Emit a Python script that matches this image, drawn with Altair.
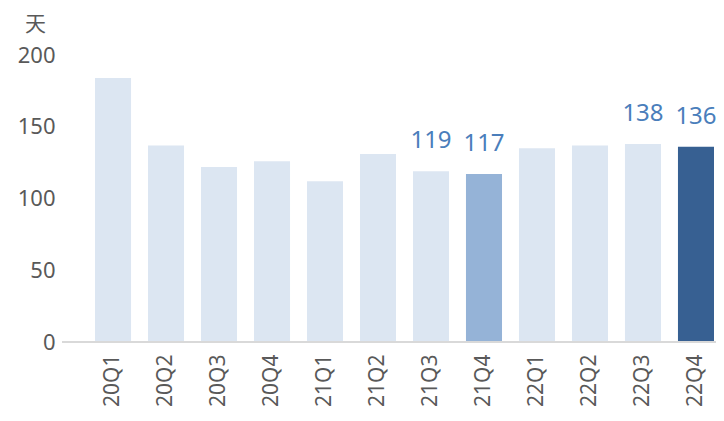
import altair as alt
import pandas as pd

quarters = ["20Q1", "20Q2", "20Q3", "20Q4", "21Q1", "21Q2",
            "21Q3", "21Q4", "22Q1", "22Q2", "22Q3", "22Q4"]
days = [184, 137, 122, 126, 112, 131, 119, 117, 135, 137, 138, 136]
labeled = ["21Q3", "21Q4", "22Q3", "22Q4"]
y_ticks = [0, 50, 100, 150, 200]
unit = "天"

df = pd.DataFrame({"quarter": quarters, "days": days})
df["show"] = df["quarter"].isin(labeled)

W, H = 654, 287
FONT = "Noto Sans, Noto Sans CJK SC"
GREY = "#595959"

xscale = alt.Scale(domain=quarters, range=[33, 652], paddingInner=0.32, paddingOuter=0)
yscale = alt.Scale(domain=[0, 200], nice=False)

base = alt.Chart(df).transform_calculate(
    tone="datum.quarter == '22Q4' ? 'cur' : (datum.quarter == '21Q4' ? 'prev' : 'base')"
)

x_enc = alt.X("quarter:N", sort=quarters, scale=xscale,
              axis=alt.Axis(title=None, labelAngle=-90, labelFontSize=21, labelColor=GREY,
                            labelFont=FONT, labelPadding=12, ticks=False, domain=False,
                            grid=False))
y_enc = alt.Y("days:Q", scale=yscale,
              axis=alt.Axis(values=y_ticks, title=unit, titleAngle=0, titleX=-27, titleY=-25,
                            titleAlign="center", titleBaseline="alphabetic", titleFontSize=21,
                            titleFontWeight="normal", titleColor=GREY, titleFont=FONT,
                            labelFontSize=22, labelColor=GREY, labelFont=FONT, labelPadding=7,
                            ticks=False, domain=False, grid=False))

bars = base.mark_bar().encode(
    x=x_enc,
    y=y_enc,
    color=alt.Color("tone:N",
                    scale=alt.Scale(domain=["base", "prev", "cur"],
                                    range=["#dce6f2", "#95b3d7", "#376092"]),
                    legend=None),
)

labels = base.transform_filter("datum.show").mark_text(
    dy=-23, baseline="alphabetic", align="center", fontSize=24, font=FONT, color="#4a7ebb"
).encode(x=x_enc, y=y_enc, text="days:Q")

axis_line = alt.Chart(pd.DataFrame({"v": [0]})).mark_rule(color="#d9d9d9", strokeWidth=2).encode(
    y=alt.value(H),
    x=alt.value(0),
    x2=alt.value(W),
)

chart = alt.layer(bars, axis_line, labels).properties(
    width=W, height=H,
    autosize=alt.AutoSizeParams(type="none"),
    padding={"left": 54, "top": 47, "right": 0, "bottom": 66},
    background="white",
).configure_view(stroke=None)

chart.save("out.html", embed_options={"renderer": "svg", "actions": False})
